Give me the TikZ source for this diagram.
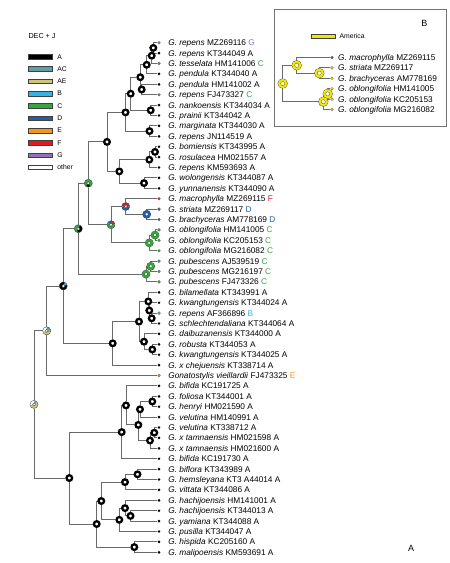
\documentclass[tikz,border=0pt]{standalone}
\usepackage{fontspec}
\setmainfont{Liberation Sans}
\usepackage{tikz}
\usetikzlibrary{positioning, backgrounds}
\definecolor{branchgrey}{HTML}{6A6A6A}
\definecolor{areaAC}{HTML}{5E9EA6}
\definecolor{areaAE}{HTML}{CFC37E}
\definecolor{areaB}{HTML}{35B4E8}
\definecolor{areaC}{HTML}{35A83A}
\definecolor{areaD}{HTML}{1F5FAD}
\definecolor{areaE}{HTML}{F7941D}
\definecolor{areaF}{HTML}{E3191F}
\definecolor{areaG}{HTML}{8E72BE}
\definecolor{america}{HTML}{F5E600}
\newcommand{\tipfont}{\fontsize{8.3}{10}\selectfont}
\newcommand{\taxon}[2]{\textit{#1} #2}
\newcommand{\code}[2]{\textcolor{#1}{#2}}
\newcommand{\leafat}[4]{%
  \node[tipdot, #3] (#1) at (159,#2) {};
  \node[tiplab, right=7.5pt of #1] (#1l) {#4};}
\newcommand{\slice}[4]{%
  \draw[#4, line width=2.4pt] (#1.center) ++(#2:2.8pt) arc[start angle=#2, end angle=#3, radius=2.8pt];}
\newcommand{\rim}[1]{%
  \draw[black!75, line width=.35pt] (#1.center) circle[radius=4.05pt] (#1.center) circle[radius=1.55pt];}
\tikzset{
  branch/.style={draw=branchgrey, line width=.9pt},
  tipdot/.style={circle, inner sep=0pt, minimum size=2.9pt, fill=black},
  ctip/.style={fill=#1, draw=black!60, line width=.3pt},
  tiplab/.style={anchor=west, inner sep=0pt, text height=5.9pt, text depth=0pt, font=\tipfont},
  blackring/.style={circle, draw=black, line width=2.3pt, fill=white, inner sep=0pt, minimum size=5.6pt},
  fullring/.style={circle, draw=black!75, line width=.35pt, double=#1, double distance=2.1pt, fill=white, inner sep=0pt, minimum size=5.6pt},
  yring/.style={fullring=america, minimum size=7pt, double distance=2.2pt},
  piering/.style={circle, fill=white, inner sep=0pt, minimum size=8pt},
  legbar/.style={rectangle, draw=black!75, line width=.5pt, inner sep=0pt, minimum width=24pt, minimum height=4.6pt},
  leglab/.style={anchor=west, inner sep=0pt, font=\fontsize{6.8}{8}\selectfont}
}

\begin{document}
\begin{tikzpicture}[x=1pt, y=-1pt]
  \useasboundingbox (0,0) rectangle (450,563);

  % legend
  \node[anchor=west, inner sep=0pt, font=\fontsize{7.2}{8}\selectfont] (dec) at (28.3,35.7) {DEC + J};
  \node[legbar, fill=black] (kA) at (40.5,56.7) {};
  \node[leglab, right=4.5pt of kA] (kAl) {A};
  \node[legbar, fill=areaAC] (kAC) at (40.5,69.0) {};
  \node[leglab, right=4.5pt of kAC] (kACl) {AC};
  \node[legbar, fill=areaAE] (kAE) at (40.5,81.3) {};
  \node[leglab, right=4.5pt of kAE] (kAEl) {AE};
  \node[legbar, fill=areaB] (kB) at (40.5,93.6) {};
  \node[leglab, right=4.5pt of kB] (kBl) {B};
  \node[legbar, fill=areaC] (kC) at (40.5,105.9) {};
  \node[leglab, right=4.5pt of kC] (kCl) {C};
  \node[legbar, fill=areaD] (kD) at (40.5,118.2) {};
  \node[leglab, right=4.5pt of kD] (kDl) {D};
  \node[legbar, fill=areaE] (kE) at (40.5,130.5) {};
  \node[leglab, right=4.5pt of kE] (kEl) {E};
  \node[legbar, fill=areaF] (kF) at (40.5,142.8) {};
  \node[leglab, right=4.5pt of kF] (kFl) {F};
  \node[legbar, fill=areaG] (kG) at (40.5,155.1) {};
  \node[leglab, right=4.5pt of kG] (kGl) {G};
  \node[legbar, fill=white] (kO) at (40.5,167.4) {};
  \node[leglab, right=4.5pt of kO] (kOl) {other};

  % tips
  \leafat{t1}{42.7}{ctip=areaG}{\taxon{G. repens}{MZ269116} \code{areaG}{G}}
  \leafat{t2}{53.1}{fill=black}{\taxon{G. repens}{KT344049 A}}
  \leafat{t3}{63.5}{ctip=areaC}{\taxon{G. tesselata}{HM141006} \code{areaC}{C}}
  \leafat{t4}{73.9}{fill=black}{\taxon{G. pendula}{KT344040 A}}
  \leafat{t5}{84.3}{fill=black}{\taxon{G. pendula}{HM141002 A}}
  \leafat{t6}{94.7}{ctip=areaC}{\taxon{G. repens}{FJ473327} \code{areaC}{C}}
  \leafat{t7}{105.1}{fill=black}{\taxon{G. nankoensis}{KT344034 A}}
  \leafat{t8}{115.5}{fill=black}{\taxon{G. prainii}{KT344042 A}}
  \leafat{t9}{125.9}{fill=black}{\taxon{G. marginata}{KT344030 A}}
  \leafat{t10}{136.3}{fill=black}{\taxon{G. repens}{JN114519 A}}
  \leafat{t11}{146.7}{fill=black}{\taxon{G. bomiensis}{KT343995 A}}
  \leafat{t12}{157.1}{fill=black}{\taxon{G. rosulacea}{HM021557 A}}
  \leafat{t13}{167.5}{fill=black}{\taxon{G. repens}{KM593693 A}}
  \leafat{t14}{177.9}{fill=black}{\taxon{G. wolongensis}{KT344087 A}}
  \leafat{t15}{188.3}{fill=black}{\taxon{G. yunnanensis}{KT344090 A}}
  \leafat{t16}{198.7}{ctip=areaF}{\taxon{G. macrophylla}{MZ269115} \code{areaF}{F}}
  \leafat{t17}{209.1}{ctip=areaD}{\taxon{G. striata}{MZ269117} \code{areaD}{D}}
  \leafat{t18}{219.5}{ctip=areaD}{\taxon{G. brachyceras}{AM778169} \code{areaD}{D}}
  \leafat{t19}{229.9}{ctip=areaC}{\taxon{G. oblongifolia}{HM141005} \code{areaC}{C}}
  \leafat{t20}{240.3}{ctip=areaC}{\taxon{G. oblongifolia}{KC205153} \code{areaC}{C}}
  \leafat{t21}{250.7}{ctip=areaC}{\taxon{G. oblongifolia}{MG216082} \code{areaC}{C}}
  \leafat{t22}{261.1}{ctip=areaC}{\taxon{G. pubescens}{AJ539519} \code{areaC}{C}}
  \leafat{t23}{271.5}{ctip=areaC}{\taxon{G. pubescens}{MG216197} \code{areaC}{C}}
  \leafat{t24}{281.9}{ctip=areaC}{\taxon{G. pubescens}{FJ473326} \code{areaC}{C}}
  \leafat{t25}{292.3}{fill=black}{\taxon{G. bilamellata}{KT343991 A}}
  \leafat{t26}{302.7}{fill=black}{\taxon{G. kwangtungensis}{KT344024 A}}
  \leafat{t27}{313.1}{ctip=areaB}{\taxon{G. repens}{AF366896} \code{areaB}{B}}
  \leafat{t28}{323.5}{fill=black}{\taxon{G. schlechtendaliana}{KT344064 A}}
  \leafat{t29}{333.9}{fill=black}{\taxon{G. daibuzanensis}{KT344000 A}}
  \leafat{t30}{344.3}{fill=black}{\taxon{G. robusta}{KT344053 A}}
  \leafat{t31}{354.7}{fill=black}{\taxon{G. kwangtungensis}{KT344025 A}}
  \leafat{t32}{365.1}{fill=black}{\taxon{G. x chejuensis}{KT338714 A}}
  \leafat{t33}{375.5}{ctip=areaE}{\taxon{Gonatostylis vieillardii}{FJ473325} \code{areaE}{E}}
  \leafat{t34}{385.9}{fill=black}{\taxon{G. bifida}{KC191725 A}}
  \leafat{t35}{396.3}{fill=black}{\taxon{G. foliosa}{KT344001 A}}
  \leafat{t36}{406.7}{fill=black}{\taxon{G. henryi}{HM021590 A}}
  \leafat{t37}{417.1}{fill=black}{\taxon{G. velutina}{HM140991 A}}
  \leafat{t38}{427.5}{fill=black}{\taxon{G. velutina}{KT338712 A}}
  \leafat{t39}{437.9}{fill=black}{\taxon{G. x tamnaensis}{HM021598 A}}
  \leafat{t40}{448.3}{fill=black}{\taxon{G. x tamnaensis}{HM021600 A}}
  \leafat{t41}{458.7}{fill=black}{\taxon{G. bifida}{KC191730 A}}
  \leafat{t42}{469.1}{fill=black}{\taxon{G. biflora}{KT343989 A}}
  \leafat{t43}{479.5}{fill=black}{\taxon{G. hemsleyana}{KT3 A44014 A}}
  \leafat{t44}{489.9}{fill=black}{\taxon{G. vittata}{KT344086 A}}
  \leafat{t45}{500.3}{fill=black}{\taxon{G. hachijoensis}{HM141001 A}}
  \leafat{t46}{510.7}{fill=black}{\taxon{G. hachijoensis}{KT344013 A}}
  \leafat{t47}{521.1}{fill=black}{\taxon{G. yamiana}{KT344088 A}}
  \leafat{t48}{531.5}{fill=black}{\taxon{G. pusilla}{KT344047 A}}
  \leafat{t49}{541.9}{fill=black}{\taxon{G. hispida}{KC205160 A}}
  \leafat{t50}{552.3}{fill=black}{\taxon{G. malipoensis}{KM593691 A}}

  % ancestral ranges, black
  \node[blackring] (a12) at (153.3,47.9) {};
  \node[blackring] (a3) at (151.7,55.7) {};
  \node[blackring] (a4) at (146.7,64.8) {};
  \node[blackring] (a56) at (141.7,89.5) {};
  \node[blackring] (a6) at (140.3,77.2) {};
  \node[blackring] (a78) at (150.7,110.3) {};
  \node[blackring] (a8) at (130.7,93.7) {};
  \node[blackring] (a910) at (149.5,131.1) {};
  \node[blackring] (a10) at (125.5,112.4) {};
  \node[blackring] (b1112) at (155,151.9) {};
  \node[blackring] (b13) at (149.3,159.7) {};
  \node[blackring] (b1415) at (144,183.1) {};
  \node[blackring] (b15) at (119.3,171.4) {};
  \node[blackring] (a15) at (107,141.9) {};
  \node[blackring] (e2728) at (151.7,318.3) {};
  \node[blackring] (e26) at (149.3,310.5) {};
  \node[blackring] (e25) at (148.3,301.4) {};
  \node[blackring] (e3031) at (152.3,349.5) {};
  \node[blackring] (e29) at (144,341.7) {};
  \node[blackring] (e28) at (139,321.6) {};
  \node[blackring] (nB) at (112.7,343.3) {};
  \node[blackring] (f3536) at (152.3,401.5) {};
  \node[blackring] (f37) at (140,409.3) {};
  \node[blackring] (f3839) at (154.3,432.7) {};
  \node[blackring] (f40) at (150,440.5) {};
  \node[blackring] (f40b) at (138.3,424.9) {};
  \node[blackring] (f34) at (126,405.4) {};
  \node[blackring] (f41) at (121.7,432.1) {};
  \node[blackring] (g4243) at (137.5,474.3) {};
  \node[blackring] (g44) at (125,482.1) {};
  \node[blackring] (g4647) at (130.5,515.9) {};
  \node[blackring] (g45) at (125,508.1) {};
  \node[blackring] (g48) at (119.3,519.8) {};
  \node[blackring] (g48b) at (101.3,501) {};
  \node[blackring] (g4950) at (134.3,547.1) {};
  \node[blackring] (g50) at (96.7,524) {};
  \node[blackring] (f50) at (69.3,478) {};

  % ancestral ranges, one area not A
  \node[fullring=areaD] (c1718) at (146.7,214.3) {};
  \node[fullring=areaC] (c1920) at (155,235.1) {};
  \node[fullring=areaC] (c21) at (149.3,242.9) {};
  \node[fullring=areaC] (d2223) at (150.7,266.3) {};
  \node[fullring=areaC] (d24) at (146,274.1) {};

  % ancestral ranges, mixed
  \node[piering] (c18) at (125.7,206.5) {};
  \slice{c18}{0}{180}{areaF}
  \slice{c18}{180}{360}{areaD}
  \rim{c18}
  \node[piering] (c21b) at (111,224.7) {};
  \slice{c21b}{10}{90}{areaF}
  \slice{c21b}{90}{150}{areaD}
  \slice{c21b}{150}{370}{areaC}
  \rim{c21b}
  \node[piering] (n4) at (88.3,183.3) {};
  \slice{n4}{300}{590}{areaC}
  \slice{n4}{230}{300}{black}
  \rim{n4}
  \node[piering] (n3) at (78.3,228.7) {};
  \slice{n3}{60}{250}{areaC}
  \slice{n3}{250}{420}{black}
  \rim{n3}
  \node[piering] (n2) at (63.3,286) {};
  \slice{n2}{60}{380}{black}
  \slice{n2}{20}{60}{areaB}
  \rim{n2}
  \node[piering] (n1) at (46.7,330.8) {};
  \slice{n1}{90}{200}{white}
  \slice{n1}{200}{340}{areaAE}
  \slice{n1}{340}{370}{areaE}
  \slice{n1}{10}{90}{areaAC}
  \rim{n1}
  \node[piering] (root) at (34,404.4) {};
  \slice{root}{80}{190}{white}
  \slice{root}{190}{400}{areaAE}
  \slice{root}{40}{80}{areaAC}
  \rim{root}

  \begin{scope}[on background layer]
    \draw[branch] (a12) |- (t1) (a12) |- (t2);
    \draw[branch] (a3) |- (a12) (a3) |- (t3);
    \draw[branch] (a4) |- (a3) (a4) |- (t4);
    \draw[branch] (a56) |- (t5) (a56) |- (t6);
    \draw[branch] (a6) |- (a4) (a6) |- (a56);
    \draw[branch] (a78) |- (t7) (a78) |- (t8);
    \draw[branch] (a8) |- (a6) (a8) |- (a78);
    \draw[branch] (a910) |- (t9) (a910) |- (t10);
    \draw[branch] (a10) |- (a8) (a10) |- (a910);
    \draw[branch] (b1112) |- (t11) (b1112) |- (t12);
    \draw[branch] (b13) |- (b1112) (b13) |- (t13);
    \draw[branch] (b1415) |- (t14) (b1415) |- (t15);
    \draw[branch] (b15) |- (b13) (b15) |- (b1415);
    \draw[branch] (a15) |- (a10) (a15) |- (b15);
    \draw[branch] (c1718) |- (t17) (c1718) |- (t18);
    \draw[branch] (c18) |- (t16) (c18) |- (c1718);
    \draw[branch] (c1920) |- (t19) (c1920) |- (t20);
    \draw[branch] (c21) |- (c1920) (c21) |- (t21);
    \draw[branch] (c21b) |- (c18) (c21b) |- (c21);
    \draw[branch] (n4) |- (a15) (n4) |- (c21b);
    \draw[branch] (d2223) |- (t22) (d2223) |- (t23);
    \draw[branch] (d24) |- (d2223) (d24) |- (t24);
    \draw[branch] (n3) |- (n4) (n3) |- (d24);
    \draw[branch] (e2728) |- (t27) (e2728) |- (t28);
    \draw[branch] (e26) |- (t26) (e26) |- (e2728);
    \draw[branch] (e25) |- (t25) (e25) |- (e26);
    \draw[branch] (e3031) |- (t30) (e3031) |- (t31);
    \draw[branch] (e29) |- (t29) (e29) |- (e3031);
    \draw[branch] (e28) |- (e25) (e28) |- (e29);
    \draw[branch] (nB) |- (e28) (nB) |- (t32);
    \draw[branch] (n2) |- (n3) (n2) |- (nB);
    \draw[branch] (n1) |- (n2) (n1) |- (t33);
    \draw[branch] (f3536) |- (t35) (f3536) |- (t36);
    \draw[branch] (f37) |- (f3536) (f37) |- (t37);
    \draw[branch] (f3839) |- (t38) (f3839) |- (t39);
    \draw[branch] (f40) |- (f3839) (f40) |- (t40);
    \draw[branch] (f40b) |- (f37) (f40b) |- (f40);
    \draw[branch] (f34) |- (t34) (f34) |- (f40b);
    \draw[branch] (f41) |- (f34) (f41) |- (t41);
    \draw[branch] (g4243) |- (t42) (g4243) |- (t43);
    \draw[branch] (g44) |- (g4243) (g44) |- (t44);
    \draw[branch] (g4647) |- (t46) (g4647) |- (t47);
    \draw[branch] (g45) |- (t45) (g45) |- (g4647);
    \draw[branch] (g48) |- (g45) (g48) |- (t48);
    \draw[branch] (g48b) |- (g44) (g48b) |- (g48);
    \draw[branch] (g4950) |- (t49) (g4950) |- (t50);
    \draw[branch] (g50) |- (g48b) (g50) |- (g4950);
    \draw[branch] (f50) |- (f41) (f50) |- (g50);
    \draw[branch] (root) |- (n1) (root) |- (f50);
  \end{scope}

  \node[font=\fontsize{9}{10}\selectfont, inner sep=0pt] (panelA) at (411,548) {A};

  % inset B
  \draw[draw=black!55, line width=.6pt] (274,9) rectangle (446,126);
  \node[font=\fontsize{9}{10}\selectfont, inner sep=0pt] (panelB) at (424.3,23.3) {B};
  \node[legbar, fill=america] (kAm) at (322.9,36.3) {};
  \node[leglab, right=4.3pt of kAm] (kAml) {America};

  \node[tipdot, ctip=areaF] (i1) at (332,57.5) {};
  \node[tiplab, right=4.4pt of i1] (i1l) {\taxon{G. macrophylla}{MZ269115}};
  \node[tipdot, ctip=america] (i2) at (332,67.9) {};
  \node[tiplab, right=4.4pt of i2] (i2l) {\taxon{G. striata}{MZ269117}};
  \node[tipdot, ctip=america] (i3) at (332,78.3) {};
  \node[tiplab, right=4.4pt of i3] (i3l) {\taxon{G. brachyceras}{AM778169}};
  \node[tipdot, ctip=america] (i4) at (332,88.7) {};
  \node[tiplab, right=4.4pt of i4] (i4l) {\taxon{G. oblongifolia}{HM141005}};
  \node[tipdot, ctip=america] (i5) at (332,99.1) {};
  \node[tiplab, right=4.4pt of i5] (i5l) {\taxon{G. oblongifolia}{KC205153}};
  \node[tipdot, ctip=america] (i6) at (332,109.5) {};
  \node[tiplab, right=4.4pt of i6] (i6l) {\taxon{G. oblongifolia}{MG216082}};

  \node[yring] (ib23) at (319.3,73.1) {};
  \node[yring] (ib1) at (296.7,65.3) {};
  \node[yring] (ib45) at (327.7,93.9) {};
  \node[yring] (ib6) at (323.3,101.7) {};
  \node[yring] (ibroot) at (282.7,83.5) {};
  \begin{scope}[on background layer]
    \draw[branch] (ib23) |- (i2) (ib23) |- (i3);
    \draw[branch] (ib1) |- (i1) (ib1) |- (ib23);
    \draw[branch] (ib45) |- (i4) (ib45) |- (i5);
    \draw[branch] (ib6) |- (ib45) (ib6) |- (i6);
    \draw[branch] (ibroot) |- (ib1) (ibroot) |- (ib6);
  \end{scope}
\end{tikzpicture}
\end{document}
